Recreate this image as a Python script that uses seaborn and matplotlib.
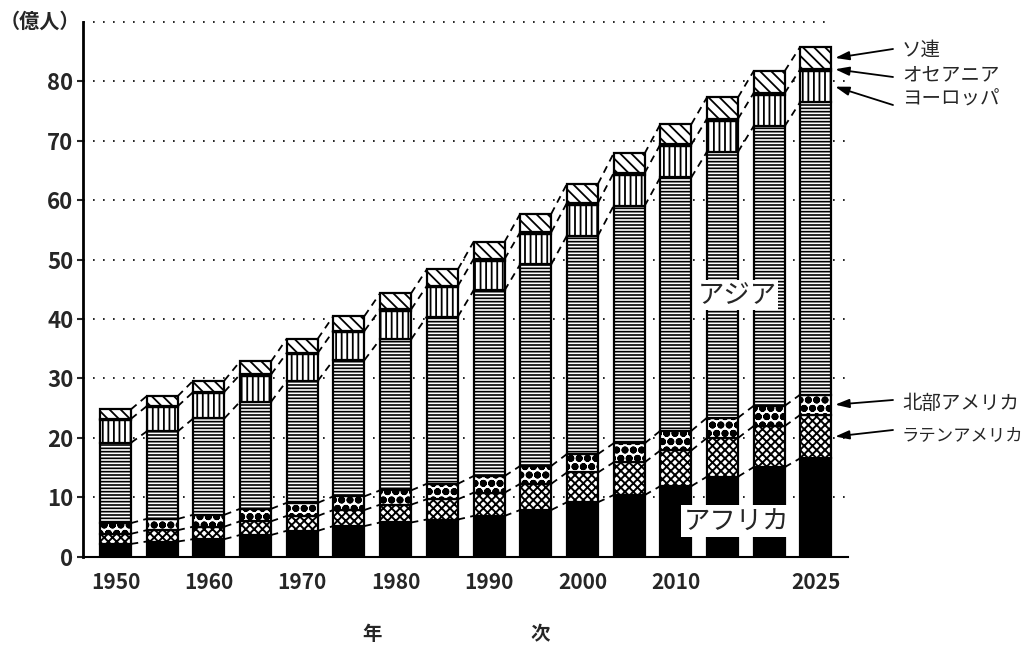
import numpy as np
import matplotlib
matplotlib.use('Agg')
import matplotlib.pyplot as plt
import matplotlib.transforms as mtransforms
import seaborn as sns

# 年次（5年おき）
years = ['1950', '1955', '1960', '1965', '1970', '1975', '1980', '1985',
         '1990', '1995', '2000', '2005', '2010', '2015', '2020', '2025']
tick_labels = ['1950', '', '1960', '', '1970', '', '1980', '', '1990', '',
               '2000', '', '2010', '', '', '2025']

# 地域別人口（億人）- 図から読み取り
africa = [2.2, 2.6, 3.0, 3.7, 4.4, 5.2, 5.8, 6.3, 6.9, 7.9, 9.2, 10.4, 11.9, 13.5, 15.1, 16.6]
latin_america = [1.7, 1.9, 2.1, 2.3, 2.5, 2.7, 3.0, 3.4, 3.9, 4.4, 5.0, 5.5, 6.0, 6.5, 6.9, 7.3]
north_america = [1.8, 1.9, 2.0, 2.1, 2.2, 2.3, 2.4, 2.6, 2.8, 3.0, 3.1, 3.2, 3.3, 3.4, 3.4, 3.4]
asia = [13.5, 14.7, 16.2, 18.0, 20.5, 22.9, 25.4, 28.1, 31.2, 33.9, 36.7, 39.9, 42.6, 44.7, 47.0, 49.2]
europe = [3.9, 4.1, 4.3, 4.4, 4.5, 4.7, 4.8, 4.9, 5.0, 5.1, 5.2, 5.2, 5.2, 5.2, 5.2, 5.1]
oceania = [0.13, 0.14, 0.16, 0.18, 0.19, 0.21, 0.23, 0.25, 0.26, 0.28, 0.30, 0.32, 0.33, 0.35, 0.37, 0.38]
ussr = [1.6, 1.7, 1.9, 2.2, 2.4, 2.5, 2.7, 2.8, 2.9, 3.1, 3.2, 3.3, 3.4, 3.6, 3.7, 3.8]

# (値, 塗り色, ハッチ, ハッチ線幅)
layers = [
    (africa, 'black', None, 1.2),
    (latin_america, 'white', 'xxxx', 1.4),
    (north_america, 'white', 'oo', 2.6),
    (asia, 'white', '-----', 1.2),
    (europe, 'white', '|||', 1.3),
    (oceania, 'white', None, 1.2),
    (ussr, 'white', '\\\\\\', 1.3),
]

sns.set_theme(style='white')
plt.rcParams['font.family'] = ['Noto Sans CJK JP', 'DejaVu Sans']
plt.rcParams['hatch.color'] = 'black'

fig = plt.figure(figsize=(10.34, 6.5), dpi=100)
ax = fig.add_axes([0.0803, 0.1431, 0.7397, 0.8238])

w = 0.665
bottom = np.zeros(len(years))
tops = []
for vals, fc, hatch, hlw in layers:
    with plt.rc_context({'hatch.linewidth': hlw}):
        sns.barplot(x=years, y=vals, bottom=bottom, color=fc, saturation=1,
                    hatch=hatch, edgecolor='black', linewidth=1.6, width=w,
                    errorbar=None, ax=ax, zorder=2)
    bottom = bottom + np.array(vals)
    tops.append(bottom.copy())

# 棒の間をつなぐ破線
for t in [tops[0], tops[1], tops[2], tops[3], tops[5], tops[6]]:
    for i in range(len(years) - 1):
        ax.plot([i + w / 2, i + 1 - w / 2], [t[i], t[i + 1]], color='black',
                lw=1.3, ls=(0, (4, 3)), zorder=3)

ax.set_xlim(-0.696, 15.686)
ax.set_ylim(0, 90)
ax.set_yticks(range(0, 90, 10))
ax.set_yticklabels([str(v) for v in range(0, 90, 10)], fontsize=16, fontweight='bold')
ax.set_xticks(range(len(years)))
ax.set_xticklabels(tick_labels, fontsize=15, fontweight='bold')
ax.tick_params(axis='x', length=0, pad=11)
ax.tick_params(axis='y', length=4, width=1.5, direction='out', pad=3, left=True)
ax.set_xlabel('')
ax.set_ylabel('')

ax.set_axisbelow(True)
ax.yaxis.grid(True, linestyle=(0, (1, 5)), color='black', lw=1.2)
ax.xaxis.grid(False)
ax.axhline(90, xmax=0.98, linestyle=(0, (1, 5)), color='black', lw=1.2, clip_on=False, zorder=0)
ax.spines['top'].set_visible(False)
ax.spines['right'].set_visible(False)
ax.spines['left'].set_linewidth(2)
ax.spines['bottom'].set_linewidth(1.5)
ax.spines['left'].set_color('black')
ax.spines['bottom'].set_color('black')

trans = mtransforms.blended_transform_factory(ax.transAxes, ax.transData)
ax.text(-0.004, 90, '（億人）', transform=trans, ha='right', va='center',
        fontsize=14.5, fontweight='bold', clip_on=False)

# 図中ラベル
ax.text(13.32, 44.0, 'アジア', fontsize=19, ha='center', va='center', zorder=5,
        bbox=dict(boxstyle='square,pad=0.05', fc='white', ec='none'))
ax.text(13.30, 6.0, 'アフリカ', fontsize=19, ha='center', va='center', zorder=5,
        bbox=dict(boxstyle='square,pad=0.1', fc='white', ec='none'))

# 右側の注記と矢印
last = len(years) - 1
xr = last + w / 2 + 0.08
notes = [
    ('ソ連', (tops[5][last] + tops[6][last]) / 2, 601, 600, 14),
    ('オセアニア', tops[5][last], 573, 575, 14),
    ('ヨーロッパ', (tops[3][last] + tops[4][last]) / 2, 545, 551, 14),
    ('北部アメリカ', (tops[1][last] + tops[2][last]) / 2, 250, 247, 14),
    ('ラテンアメリカ', (tops[0][last] + tops[1][last]) / 2, 220, 215, 12.5),
]
for label, yv, tail_y, text_y, fs in notes:
    ax.annotate('', xy=(xr, yv), xytext=(893, tail_y), textcoords='figure pixels',
                arrowprops=dict(arrowstyle='-|>,head_length=0.7,head_width=0.22',
                                color='black', lw=1.3, shrinkA=0, shrinkB=0),
                annotation_clip=False)
    fig.text(902 / 1034, text_y / 650, label, fontsize=fs, ha='left', va='center')

fig.text(372 / 1034, 1 - 635 / 650, '年', fontsize=14, fontweight='bold', ha='center', va='center')
fig.text(540 / 1034, 1 - 635 / 650, '次', fontsize=14, fontweight='bold', ha='center', va='center')

fig.savefig('out.png', dpi=100)
